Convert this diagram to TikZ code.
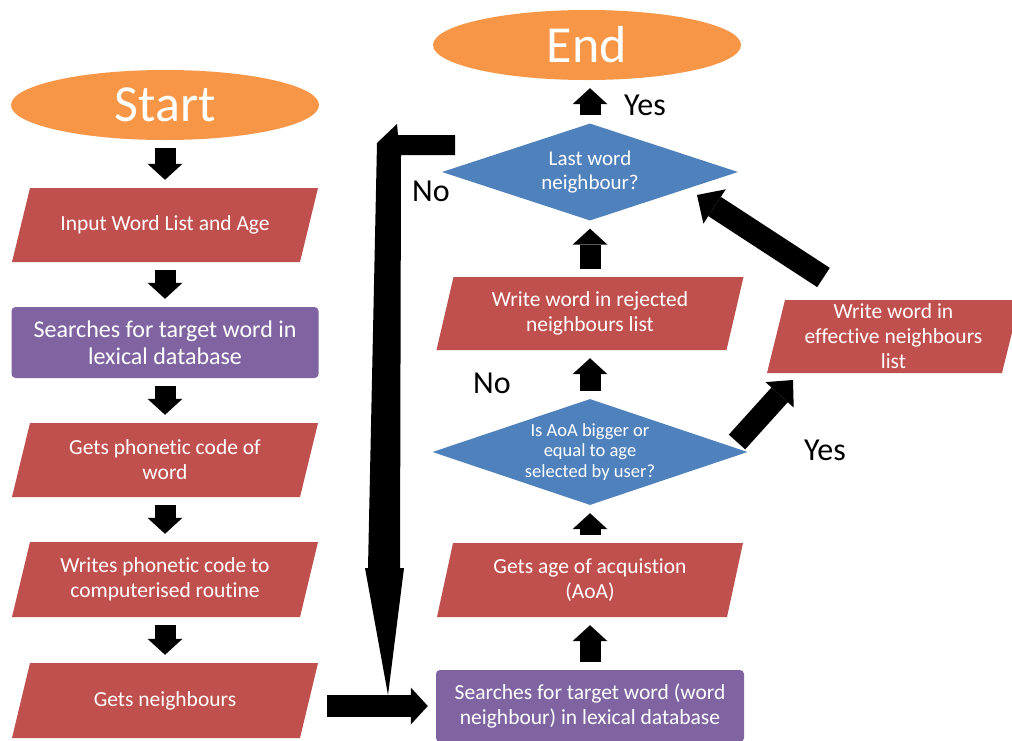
\documentclass[tikz,border=0pt]{standalone}
\usepackage{fontspec}
\setmainfont{Carlito}[Ligatures=NoCommon]
\usetikzlibrary{shapes.geometric,arrows.meta,calc}

\definecolor{termorange}{HTML}{F79646}
\definecolor{procred}{HTML}{C0504D}
\definecolor{dbpurple}{HTML}{8064A2}
\definecolor{decblue}{HTML}{4F81BD}

% slanted process box: name, centre x, centre y, side length, height, slant, text
\newcommand\slbox[7]{%
  \fill[procfill] ({#2-#4/2+#6/2},{#3-#5/2}) -- ({#2+#4/2+#6/2},{#3-#5/2})
    -- ({#2+#4/2-#6/2},{#3+#5/2}) -- ({#2-#4/2-#6/2},{#3+#5/2}) -- cycle;
  \node[proctext, minimum width=#4, minimum height=#5] (#1) at (#2,#3) {#7};}

\tikzset{
  boxfont/.style={font=\fontsize{21.5}{25}\selectfont},
  procfill/.style={fill=procred},
  proctext/.style={boxfont, text=white, align=center, inner sep=0pt},
  term/.style={ellipse, fill=termorange, text=white,
    font=\fontsize{52}{60}\selectfont, minimum width=308, minimum height=70,
    inner sep=0pt},
  dbbox/.style={rectangle, rounded corners=4pt, fill=dbpurple, text=white,
    align=center, boxfont, minimum width=307, minimum height=71, inner sep=0pt},
  decision/.style={diamond, fill=decblue, inner sep=0pt},
  dectext/.style={text=white, align=center, inner sep=0pt},
  lbl/.style={font=\fontsize{32}{36}\selectfont, text=black},
  blk/.style={draw=black, line width=21pt,
    -{Triangle[width=35pt,length=16pt,line width=0pt]},
    shorten <=8pt, shorten >=8pt},
  diag/.style={draw=black, line width=23pt,
    -{Triangle[width=41pt,length=21pt,line width=0pt]}},
}

\begin{document}
\begin{tikzpicture}[x=1pt, y=-1pt]
\useasboundingbox (0,0) rectangle (1012,740);
\clip (0,0) rectangle (1012,740);
\fill[white] (0,0) rectangle (1012,740);

% ---- left column ----
\node[term] (start) at (165,105) {Start};
\slbox{b1}{165}{225}{288}{74}{18}{Input Word List and Age}
\node[dbbox, font=\fontsize{24}{27.5}\selectfont] (db1) at (165,342.5)
  {Searches for target word in\\lexical database};
\slbox{b3}{165}{460}{288}{74}{18}{Gets phonetic code of\\word}
\slbox{b4}{165}{579.5}{288}{75}{18}{Writes phonetic code to\\computerised routine}
\slbox{b5}{165}{700.5}{288}{75}{18}{Gets neighbours}

% ---- right column ----
\node[term] (endn) at (587,45) {End};
\node[decision, minimum width=296, minimum height=97] (d1) at (590,172) {};
\node[dectext, font=\fontsize{21}{24}\selectfont] (d1txt) at (d1) {Last word\\neighbour?};
\slbox{rej}{590}{313.5}{290}{73}{17}{Write word in rejected\\neighbours list}
\node[decision, minimum width=315, minimum height=106] (d2) at (590,452) {};
\node[dectext, font=\fontsize{18.5}{20.5}\selectfont] (d2txt) at (d2)
  {Is AoA bigger or\\equal to age\\selected by user?};
\slbox{age}{590}{580}{290}{74}{16}{Gets age of acquistion\\(AoA)}
\node[dbbox, minimum width=308, minimum height=72] (pp2) at (590,706)
  {Searches for target word (word\\neighbour) in lexical database};
\slbox{eff}{893.5}{336.5}{235}{73}{18}{\fontsize{21.5}{24}\selectfont Write word in\\effective neighbours\\list}

% ---- labels ----
\node[lbl] (yes1) at (645,105) {Yes};
\node[lbl] (no1) at (431,191) {No};
\node[lbl] (no2) at (492,383) {No};
\node[lbl] (yes2) at (825,450) {Yes};

% ---- flow arrows, left column ----
\draw[blk] (start.south) -- (b1.north);
\draw[blk] (b1.south) -- (db1.north);
\draw[blk] (db1.south) -- (b3.north);
\draw[blk] (b3.south) -- (b4.north);
\draw[blk] (b4.south) -- (b5.north);

% ---- flow arrows, right column ----
\draw[blk] (pp2.north) -- (age.south);
\draw[blk] (age.north) -- (d2.south);
\draw[blk] (d2.north) -- (rej.south);
\draw[blk] (rej.north) -- (d1.south);
\draw[blk] (d1.north) -- (d1.north |- endn.south);

% ---- diagonal arrows via the effective list ----
\coordinate (yesTail) at (737,442);
\coordinate (yesHead) at (793,380);
\draw[diag, line width=22pt, -{Triangle[width=38pt,length=20pt,line width=0pt]}]
  (yesTail) -- (yesHead);
\coordinate (effTail) at (823.5,277.5);
\coordinate (effHead) at (697,195);
\draw[diag] (effTail) -- (effHead);

% ---- "No" loop back down to the next neighbour (bent block arrow) ----
\coordinate (loopStart) at (455,145);
\coordinate (loopEnd) at (388,695);
\fill[black] (loopStart |- 0,135) -- (loopStart |- 0,155) -- (401,155)
  -- (400,568) -- (404,568) -- (loopEnd) -- (365,568) -- (368,568)
  -- (377,143) -- (397,124) -- (398,135) -- cycle;

% ---- neighbours into the search ----
\draw[blk, line width=22pt, -{Triangle[width=37pt,length=17pt,line width=0pt]},
  shorten <=18pt, shorten >=8pt] (b5.east |- pp2.west) -- (pp2.west);
\end{tikzpicture}
\end{document}
